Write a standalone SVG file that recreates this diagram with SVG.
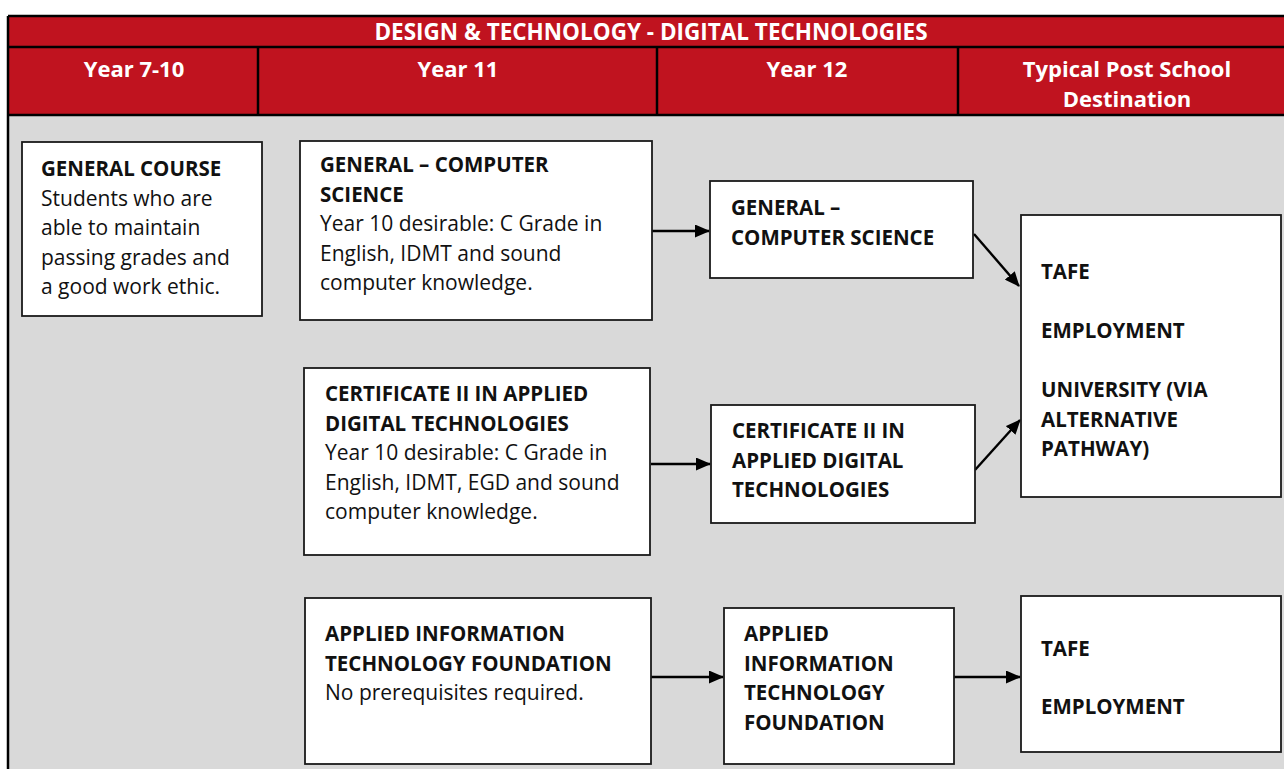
<svg xmlns="http://www.w3.org/2000/svg" width="1284" height="769" viewBox="0 0 1284 769">
<defs>
<style>
.hdr{fill:#c0131f}
.line{stroke:#000;stroke-width:2.5;fill:none}
.box{fill:#fff;stroke:#1a1a1a;stroke-width:1.8}
.ht{font-family:"Open Sans",sans-serif;font-weight:bold;font-size:22px;fill:#fff;text-anchor:middle}
.t{font-family:"Open Sans",sans-serif;font-size:21px;fill:#111}
.b{font-weight:bold;font-size:20.5px}
.conn{stroke:#000;stroke-width:2.4;fill:none;marker-end:url(#ah)}
</style>
<marker id="ah" viewBox="0 0 15 13" refX="14" refY="6.5" markerWidth="15" markerHeight="13" markerUnits="userSpaceOnUse" orient="auto">
<path d="M0,0 L15,6.5 L0,13 z" fill="#000"/>
</marker>
</defs>
<rect x="0" y="0" width="1284" height="769" fill="#fff"/>
<g id="table">
<rect x="8" y="16" width="1280" height="99" class="hdr"/>
<rect x="8" y="115" width="1280" height="660" fill="#d9d9d9"/>
<path class="line" d="M8,16 H1284 M8,16 V769 M8,47 H1284 M8,115 H1284 M258,47 V115 M657,47 V115 M958,47 V115"/>
<text class="ht" x="651" y="40" style="font-size:22.5px">DESIGN &amp; TECHNOLOGY - DIGITAL TECHNOLOGIES</text>
<text class="ht" x="134" y="77">Year 7-10</text>
<text class="ht" x="458" y="77">Year 11</text>
<text class="ht" x="807" y="77">Year 12</text>
<text class="ht" x="1127" y="77">Typical Post School</text>
<text class="ht" x="1127" y="107">Destination</text>
</g>
<g id="connectors">
<line class="conn" x1="652" y1="231" x2="709" y2="231"/>
<line class="conn" x1="974" y1="234" x2="1019" y2="286"/>
<line class="conn" x1="651" y1="464" x2="710" y2="464"/>
<line class="conn" x1="975" y1="470" x2="1020" y2="420"/>
<line class="conn" x1="651" y1="677" x2="723" y2="677"/>
<line class="conn" x1="954" y1="677" x2="1020" y2="677"/>
</g>
<g id="n-general-course">
<rect class="box" x="22" y="142" width="240" height="174"/>
<text class="t" x="41" y="176"><tspan class="b">GENERAL COURSE</tspan><tspan x="41" dy="29.5">Students who are</tspan><tspan x="41" dy="29.5">able to maintain</tspan><tspan x="41" dy="29.5">passing grades and</tspan><tspan x="41" dy="29.5">a good work ethic.</tspan></text>
</g>
<g id="n-y11-general">
<rect class="box" x="300" y="141" width="352" height="179"/>
<text class="t" x="320" y="172"><tspan class="b">GENERAL – COMPUTER</tspan><tspan class="b" x="320" dy="29.5">SCIENCE</tspan><tspan x="320" dy="29.5">Year 10 desirable: C Grade in</tspan><tspan x="320" dy="29.5">English, IDMT and sound</tspan><tspan x="320" dy="29.5">computer knowledge.</tspan></text>
</g>
<g id="n-y12-general">
<rect class="box" x="710" y="181" width="263" height="97"/>
<text class="t b" x="731" y="215"><tspan>GENERAL –</tspan><tspan x="731" dy="29.5">COMPUTER SCIENCE</tspan></text>
</g>
<g id="n-dest1">
<rect class="box" x="1021" y="215" width="260" height="282"/>
<text class="t b" x="1041" y="279"><tspan>TAFE</tspan><tspan x="1041" dy="59">EMPLOYMENT</tspan><tspan x="1041" dy="59">UNIVERSITY (VIA</tspan><tspan x="1041" dy="29.5">ALTERNATIVE</tspan><tspan x="1041" dy="29.5">PATHWAY)</tspan></text>
</g>
<g id="n-y11-cert">
<rect class="box" x="304" y="368" width="346" height="187"/>
<text class="t" x="325" y="401"><tspan class="b">CERTIFICATE II IN APPLIED</tspan><tspan class="b" x="325" dy="29.5">DIGITAL TECHNOLOGIES</tspan><tspan x="325" dy="29.5">Year 10 desirable: C Grade in</tspan><tspan x="325" dy="29.5">English, IDMT, EGD and sound</tspan><tspan x="325" dy="29.5">computer knowledge.</tspan></text>
</g>
<g id="n-y12-cert">
<rect class="box" x="711" y="405" width="264" height="118"/>
<text class="t b" x="732" y="438"><tspan>CERTIFICATE II IN</tspan><tspan x="732" dy="29.5">APPLIED DIGITAL</tspan><tspan x="732" dy="29.5">TECHNOLOGIES</tspan></text>
</g>
<g id="n-y11-ait">
<rect class="box" x="305" y="598" width="346" height="166"/>
<text class="t" x="325" y="641"><tspan class="b">APPLIED INFORMATION</tspan><tspan class="b" x="325" dy="29.5">TECHNOLOGY FOUNDATION</tspan><tspan x="325" dy="29.5">No prerequisites required.</tspan></text>
</g>
<g id="n-y12-ait">
<rect class="box" x="724" y="608" width="230" height="156"/>
<text class="t b" x="744" y="641"><tspan>APPLIED</tspan><tspan x="744" dy="29.5">INFORMATION</tspan><tspan x="744" dy="29.5">TECHNOLOGY</tspan><tspan x="744" dy="29.5">FOUNDATION</tspan></text>
</g>
<g id="n-dest2">
<rect class="box" x="1021" y="596" width="260" height="156"/>
<text class="t b" x="1041" y="656"><tspan>TAFE</tspan><tspan x="1041" dy="58">EMPLOYMENT</tspan></text>
</g>
</svg>
